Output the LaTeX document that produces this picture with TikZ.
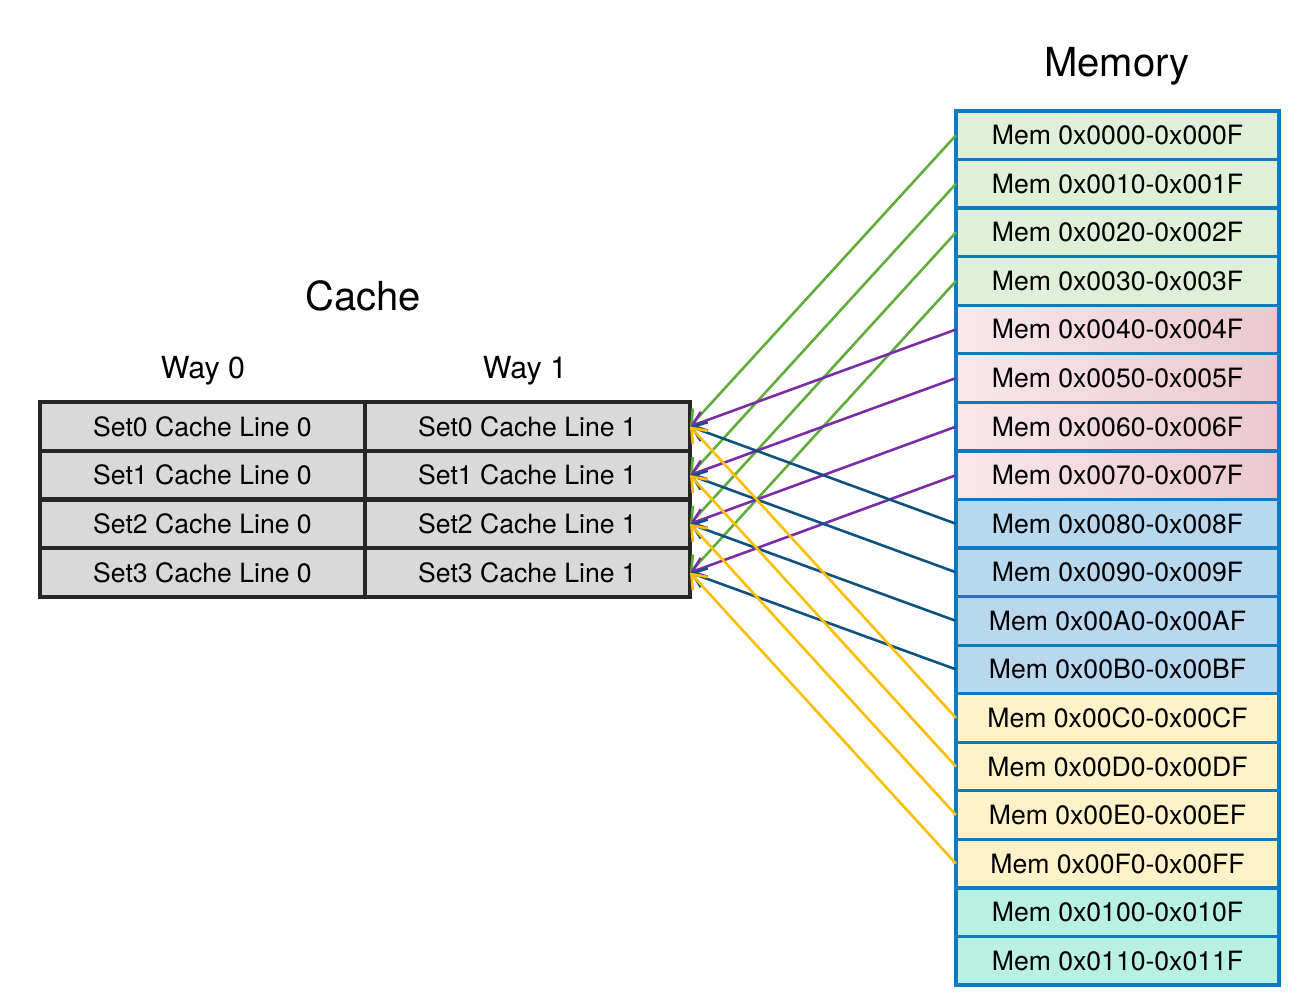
\documentclass[tikz,border=0pt]{standalone}
\usepackage{fontspec}
\setmainfont{TeX Gyre Heros}
\usetikzlibrary{arrows.meta}
\definecolor{cacheFill}{HTML}{D9D9D9}
\definecolor{cacheDraw}{HTML}{262626}
\definecolor{memDraw}{HTML}{0E7AC0}
\definecolor{memGreen}{HTML}{E0F0D8}
\definecolor{memPinkL}{HTML}{F8E7EB}
\definecolor{memPinkR}{HTML}{EBC8D0}
\definecolor{memBlue}{HTML}{B8D8F0}
\definecolor{memYellow}{HTML}{FFF1C8}
\definecolor{memTeal}{HTML}{B8F0E2}
\definecolor{edgeGreen}{HTML}{60AD3A}
\definecolor{edgePurple}{HTML}{7B2DA8}
\definecolor{edgeBlue}{HTML}{0E5380}
\definecolor{edgeYellow}{HTML}{FFBE00}
\tikzset{
	cline/.style={rectangle,draw=cacheDraw,fill=cacheFill,line width=2.2pt,minimum width=162.5pt,minimum height=24.375pt,inner sep=0,outer sep=0,font=\fontsize{13.3}{16}\selectfont},
	mem/.style={rectangle,draw=memDraw,line width=1.6pt,minimum width=161.5pt,minimum height=24.28pt,inner sep=0,outer sep=0,font=\fontsize{13.3}{16}\selectfont},
	memgreen/.style={mem,fill=memGreen},
	mempink/.style={mem,left color=memPinkL,right color=memPinkR},
	memblue/.style={mem,fill=memBlue},
	memyellow/.style={mem,fill=memYellow},
	memteal/.style={mem,fill=memTeal},
	title/.style={anchor=base,font=\fontsize{20}{24}\selectfont},
	waylabel/.style={anchor=base,font=\fontsize{15.2}{18}\selectfont},
	diredge/.style={-{Straight Barb[length=6.5pt,width=10pt]},line width=1.3pt}
}
\begin{document}
\begin{tikzpicture}[x=0.5pt,y=-0.5pt]
	\useasboundingbox (0,0) rectangle (1308,1004);

	%%%titles
	\node[title] (cachetitle) at (363,311) {Cache};
	\node[title] (memtitle) at (1117,77) {Memory};
	\node[waylabel] (way0) at (203,379) {Way 0};
	\node[waylabel] (way1) at (525,379) {Way 1};

	%%%cache
	\node[cline] (s0w0) at (202.5,426.4) {Set0 Cache Line 0};
	\node[cline] (s0w1) at (527.5,426.4) {Set0 Cache Line 1};
	\node[cline] (s1w0) at (202.5,475.1) {Set1 Cache Line 0};
	\node[cline] (s1w1) at (527.5,475.1) {Set1 Cache Line 1};
	\node[cline] (s2w0) at (202.5,523.9) {Set2 Cache Line 0};
	\node[cline] (s2w1) at (527.5,523.9) {Set2 Cache Line 1};
	\node[cline] (s3w0) at (202.5,572.6) {Set3 Cache Line 0};
	\node[cline] (s3w1) at (527.5,572.6) {Set3 Cache Line 1};

	%%%memory
	\node[memgreen] (m0) at (1117.5,135.3) {Mem 0x0000-0x000F};
	\node[memgreen] (m1) at (1117.5,183.8) {Mem 0x0010-0x001F};
	\node[memgreen] (m2) at (1117.5,232.4) {Mem 0x0020-0x002F};
	\node[memgreen] (m3) at (1117.5,281.0) {Mem 0x0030-0x003F};
	\node[mempink] (m4) at (1117.5,329.5) {Mem 0x0040-0x004F};
	\node[mempink] (m5) at (1117.5,378.1) {Mem 0x0050-0x005F};
	\node[mempink] (m6) at (1117.5,426.6) {Mem 0x0060-0x006F};
	\node[mempink] (m7) at (1117.5,475.2) {Mem 0x0070-0x007F};
	\node[memblue] (m8) at (1117.5,523.8) {Mem 0x0080-0x008F};
	\node[memblue] (m9) at (1117.5,572.3) {Mem 0x0090-0x009F};
	\node[memblue] (m10) at (1117.5,620.9) {Mem 0x00A0-0x00AF};
	\node[memblue] (m11) at (1117.5,669.4) {Mem 0x00B0-0x00BF};
	\node[memyellow] (m12) at (1117.5,718.0) {Mem 0x00C0-0x00CF};
	\node[memyellow] (m13) at (1117.5,766.6) {Mem 0x00D0-0x00DF};
	\node[memyellow] (m14) at (1117.5,815.1) {Mem 0x00E0-0x00EF};
	\node[memyellow] (m15) at (1117.5,863.7) {Mem 0x00F0-0x00FF};
	\node[memteal] (m16) at (1117.5,912.2) {Mem 0x0100-0x010F};
	\node[memteal] (m17) at (1117.5,960.8) {Mem 0x0110-0x011F};

	%%%mapping
	\draw[edgeGreen]
	(m0.west) edge[diredge] (s0w1.east) (m1.west) edge[diredge] (s1w1.east)
	(m2.west) edge[diredge] (s2w1.east) (m3.west) edge[diredge] (s3w1.east);
	\draw[edgePurple]
	(m4.west) edge[diredge] (s0w1.east) (m5.west) edge[diredge] (s1w1.east)
	(m6.west) edge[diredge] (s2w1.east) (m7.west) edge[diredge] (s3w1.east);
	\draw[edgeBlue]
	(m8.west) edge[diredge] (s0w1.east) (m9.west) edge[diredge] (s1w1.east)
	(m10.west) edge[diredge] (s2w1.east) (m11.west) edge[diredge] (s3w1.east);
	\draw[edgeYellow]
	(m12.west) edge[diredge] (s0w1.east) (m13.west) edge[diredge] (s1w1.east)
	(m14.west) edge[diredge] (s2w1.east) (m15.west) edge[diredge] (s3w1.east);

\end{tikzpicture}
\end{document}
